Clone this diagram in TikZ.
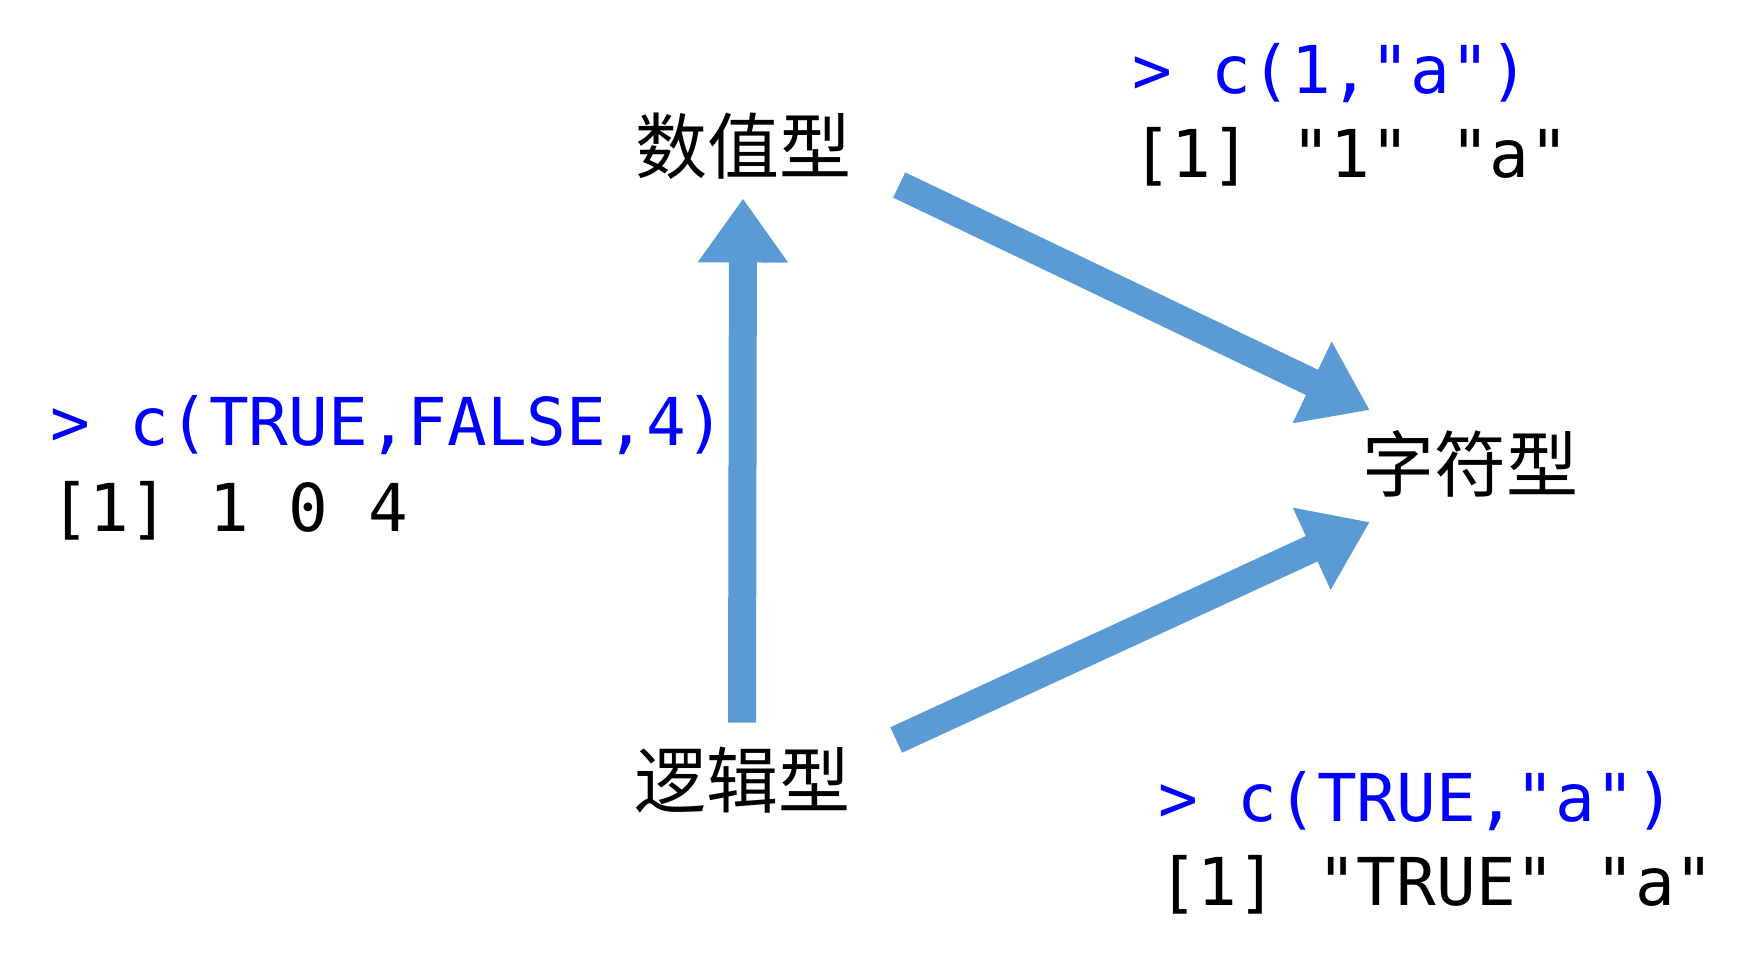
\documentclass[tikz,border=0pt]{standalone}
\usepackage{fontspec}
\usepackage{tikz}
\usetikzlibrary{calc,arrows.meta}
\newfontfamily\cjk{Noto Sans CJK SC}
\newfontfamily\codefont{DejaVu Sans Mono}
\definecolor{arrowblue}{HTML}{5B9BD5}
\definecolor{promptblue}{HTML}{0000FF}
\def\drawconv{\draw[color=arrowblue, line width=28pt, -{Triangle[length=64pt,width=86pt]}]}
\def\typenode{\node[font=\cjk\fontsize{72}{72}\selectfont, inner sep=0pt]}
\def\codenode{\node[font=\codefont\fontsize{66}{86}\selectfont, inner sep=0pt, anchor=base west]}

\begin{document}
\begin{tikzpicture}[x=1pt,y=-1pt]
\useasboundingbox (0,0) rectangle (1750,958);
\typenode (num) at (743,146) {数值型};
\typenode (logic) at (742,780) {逻辑型};
\typenode (chr) at (1470,464) {字符型};
\codenode[promptblue] (incmd) at (50,445) {> c(TRUE,FALSE,4)};
\codenode (inout) at (50,531) {[1] 1 0 4};
\codenode[promptblue] (numcmd) at (1132,93) {> c(1,"a")};
\codenode (numout) at (1132,177) {[1] "1" "a"};
\codenode[promptblue] (logcmd) at (1158,821) {> c(TRUE,"a")};
\codenode (logout) at (1158,905) {[1] "TRUE" "a"};
\drawconv ($(logic.north)+(0,-24)$) -- ($(num.south)+(0,19)$);
\drawconv ($(num.east)+(48,39)$) -- ($(chr.west)+(8,-54)$);
\drawconv ($(logic.east)+(46,-40)$) -- ($(chr.west)+(8,58)$);
\end{tikzpicture}
\end{document}
